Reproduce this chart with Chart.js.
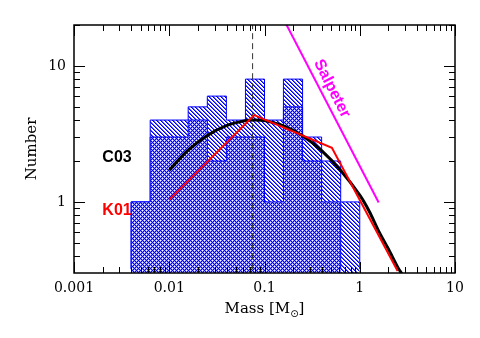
<!DOCTYPE html>
<html>
<head>
<meta charset="utf-8">
<script src="https://cdn.jsdelivr.net/npm/chart.js@4/dist/chart.umd.min.js"></script>
<style>
html, body { margin: 0; padding: 0; background: #fff; }
</style>
</head>
<body>
<canvas id="myChart" width="480" height="338"></canvas>
<script>
// histogram bins (mass edges, 0.2 dex wide)
var binEdges = [0.00398, 0.00631, 0.01, 0.0158, 0.0251, 0.0398, 0.0631, 0.1, 0.158, 0.251, 0.398, 0.631, 1.0]
var hatchCounts = [1, 4, 4, 5, 6, 4, 8, 4, 8, 3, 2, 1]   // diagonal hatched
var crossCounts = [1, 3, 3, 4, 2, 3, 3, 1, 5, 2, 1]      // cross hatched (last bin empty)

// C03 curve
var c03Mass = [0.01, 0.0158, 0.0251, 0.0398, 0.0631, 0.079, 0.1, 0.158, 0.251, 0.398, 0.631, 1.0, 1.26, 1.58, 2.0, 2.51, 2.82]
var c03Num = [1.71, 2.40, 3.08, 3.64, 3.96, 4.0, 3.96, 3.63, 3.07, 2.38, 1.70, 1.12, 0.85, 0.61, 0.45, 0.33, 0.29]

// K01 curve
var k01Mass = [0.01, 0.078, 0.51, 2.5]
var k01Num = [1.04, 4.35, 2.5, 0.31]

// Salpeter slope
var salMass = [0.158, 1.58]
var salNum = [22.2, 0.99]

var limitMass = 0.075

var xTickValues = [0.001, 0.01, 0.1, 1, 10]
var xTickLabels = ['0.001', '0.01', '0.1', '1', '10']
var yTickValues = [1, 10]
var yTickLabels = ['1', '10']

var xMin = 0.001, xMax = 10
var yMin = 0.32, yMax = 20

var canvas = document.getElementById('myChart')
var ctx = canvas.getContext('2d')

function crossPattern() {
    let c = document.createElement('canvas')
    c.width = 4; c.height = 4
    let g = c.getContext('2d')
    g.fillStyle = '#0000ff'
    g.fillRect(0, 0, 4, 4)
    // plus shaped holes on a staggered lattice
    let holes = [[0, 0], [2, 2]]
    holes.forEach(function (h) {
        g.fillStyle = '#8c8cff'
        g.fillRect((h[0] + 1) % 4, h[1], 1, 1)
        g.fillRect((h[0] + 3) % 4, h[1], 1, 1)
        g.fillRect(h[0], (h[1] + 1) % 4, 1, 1)
        g.fillRect(h[0], (h[1] + 3) % 4, 1, 1)
        g.fillStyle = '#ffffff'
        g.fillRect(h[0], h[1], 1, 1)
    })
    return ctx.createPattern(c, 'repeat')
}

function hatchPattern() {
    let c = document.createElement('canvas')
    c.width = 4; c.height = 4
    let g = c.getContext('2d')
    g.fillStyle = '#ffffff'
    g.fillRect(0, 0, 4, 4)
    for (let i = 0; i < 4; i++) {
        g.fillStyle = '#0000ff'
        g.fillRect(i, i, 1, 1)
        g.fillStyle = '#5a5aff'
        g.fillRect((i + 1) % 4, i, 1, 1)
    }
    return ctx.createPattern(c, 'repeat')
}

// stepped outline of a histogram, closed down to the bottom of the axis
function histPoints(edges, counts) {
    let pts = [{x: edges[0], y: yMin}]
    for (let i = 0; i < counts.length; i++) {
        pts.push({x: edges[i], y: counts[i]})
    }
    let last = counts.length
    pts.push({x: edges[last], y: counts[last - 1]})
    pts.push({x: edges[last], y: yMin})
    return pts
}

function pairs(xs, ys) {
    return xs.map(function (x, i) { return {x: x, y: ys[i]} })
}

var annotations = [
    {text: 'C03', x: 0.00283, y: 2.13, color: '#000000', angle: 0},
    {text: 'K01', x: 0.00283, y: 0.86, color: '#ff0000', angle: 0},
    {text: 'Salpeter', x: 0.51, y: 6.8, color: '#ff00ff', angle: 63}
]

var frameTicks = {
    id: 'frameTicks',
    afterDatasetsDraw(chart) {
        let c = chart.ctx
        let a = chart.chartArea
        let xs = chart.scales.x, ys = chart.scales.y
        c.save()
        c.strokeStyle = '#000'
        c.lineWidth = 1
        c.beginPath()
        for (let d = xMin; d < xMax * 0.99; d *= 10) {
            for (let k = 1; k <= 10; k++) {
                let v = d * k
                if (v > xMax * 1.001) break
                let px = Math.round(xs.getPixelForValue(v)) + 0.5
                let len = (k == 1 || k == 10) ? 11 : 6
                c.moveTo(px, a.bottom); c.lineTo(px, a.bottom - len)
                c.moveTo(px, a.top); c.lineTo(px, a.top + len)
            }
        }
        for (let d = 0.1; d < yMax; d *= 10) {
            for (let k = 1; k <= 9; k++) {
                let v = d * k
                if (v < yMin || v > yMax) continue
                let py = Math.round(ys.getPixelForValue(v)) + 0.5
                let len = (k == 1) ? 11 : 6
                c.moveTo(a.left, py); c.lineTo(a.left + len, py)
                c.moveTo(a.right, py); c.lineTo(a.right - len, py)
            }
        }
        c.stroke()
        c.lineWidth = 1.5
        c.strokeRect(a.left, a.top, a.right - a.left, a.bottom - a.top)
        c.restore()
    },
    afterDraw(chart) {
        let c = chart.ctx
        let a = chart.chartArea
        let xs = chart.scales.x, ys = chart.scales.y
        c.save()
        c.font = 'bold 16px "Liberation Sans", Arial, sans-serif'
        c.textAlign = 'center'
        c.textBaseline = 'middle'
        annotations.forEach(function (n) {
            c.save()
            c.translate(xs.getPixelForValue(n.x), ys.getPixelForValue(n.y))
            c.rotate(n.angle * Math.PI / 180)
            c.fillStyle = n.color
            c.fillText(n.text, 0, 0)
            c.restore()
        })

        // axis titles
        c.fillStyle = '#000'
        c.font = '15px "DejaVu Serif", serif'
        c.save()
        c.translate(32, (a.top + a.bottom) / 2)
        c.rotate(-Math.PI / 2)
        c.fillText('Number', 0, 0)
        c.restore()

        let main = 'Mass [M', sub = '\u2299', close = ']'
        c.font = '15px "DejaVu Serif", serif'
        let w1 = c.measureText(main).width, w3 = c.measureText(close).width
        c.font = '10px "DejaVu Sans", sans-serif'
        let w2 = c.measureText(sub).width
        let x0 = (a.left + a.right) / 2 - (w1 + w2 + w3) / 2
        let yT = 309
        c.textAlign = 'left'
        c.font = '15px "DejaVu Serif", serif'
        c.fillText(main, x0, yT)
        c.font = '10px "DejaVu Sans", sans-serif'
        c.fillText(sub, x0 + w1, yT + 5)
        c.font = '15px "DejaVu Serif", serif'
        c.fillText(close, x0 + w1 + w2, yT)
        c.restore()
    }
}

var chart = new Chart(ctx, {
    type: 'line',
    data: {
        datasets: [
            {
                // K01
                data: pairs(k01Mass, k01Num),
                borderColor: '#ff0000',
                borderWidth: 2,
                pointRadius: 0,
                fill: false,
                order: 1
            },
            {
                // C03
                data: pairs(c03Mass, c03Num),
                borderColor: '#000000',
                borderWidth: 3,
                pointRadius: 0,
                tension: 0.3,
                fill: false,
                order: 2
            },
            {
                // Salpeter
                data: pairs(salMass, salNum),
                borderColor: '#ff00ff',
                borderWidth: 2,
                pointRadius: 0,
                fill: false,
                order: 3
            },
            {
                data: [{x: limitMass, y: yMin}, {x: limitMass, y: yMax}],
                borderColor: '#333333',
                borderWidth: 1,
                borderDash: [6, 4],
                pointRadius: 0,
                fill: false,
                order: 4
            },
            {
                data: histPoints(binEdges, crossCounts),
                borderColor: '#0000ff',
                borderWidth: 1,
                backgroundColor: crossPattern(),
                stepped: 'before',
                pointRadius: 0,
                fill: 'start',
                order: 5
            },
            {
                data: histPoints(binEdges, hatchCounts),
                borderColor: '#0000ff',
                borderWidth: 1,
                backgroundColor: hatchPattern(),
                stepped: 'before',
                pointRadius: 0,
                fill: 'start',
                order: 6
            }
        ]
    },
    options: {
        responsive: false,
        animation: false,
        layout: { padding: { left: 0, top: 25, right: 25, bottom: 0 } },
        plugins: {
            legend: { display: false },
            tooltip: { enabled: false }
        },
        scales: {
            x: {
                type: 'logarithmic',
                min: xMin,
                max: xMax,
                grid: { display: false, drawTicks: false },
                border: { display: false },
                afterBuildTicks: function (s) { s.ticks = xTickValues.map(function (v) { return {value: v} }) },
                afterFit: function (s) { s.height = 65 },
                ticks: {
                    autoSkip: false,
                    maxRotation: 0,
                    padding: 7,
                    color: '#000',
                    font: { family: '"DejaVu Serif", serif', size: 14 },
                    callback: function (v, i) { return xTickLabels[i] }
                }
            },
            y: {
                type: 'logarithmic',
                min: yMin,
                max: yMax,
                grid: { display: false, drawTicks: false },
                border: { display: false },
                afterBuildTicks: function (s) { s.ticks = yTickValues.map(function (v) { return {value: v} }) },
                afterFit: function (s) { s.width = 74 },
                ticks: {
                    autoSkip: false,
                    padding: 8,
                    color: '#000',
                    font: { family: '"DejaVu Serif", serif', size: 14 },
                    callback: function (v, i) { return yTickLabels[i] }
                }
            }
        }
    },
    plugins: [frameTicks]
})
</script>
</body>
</html>
